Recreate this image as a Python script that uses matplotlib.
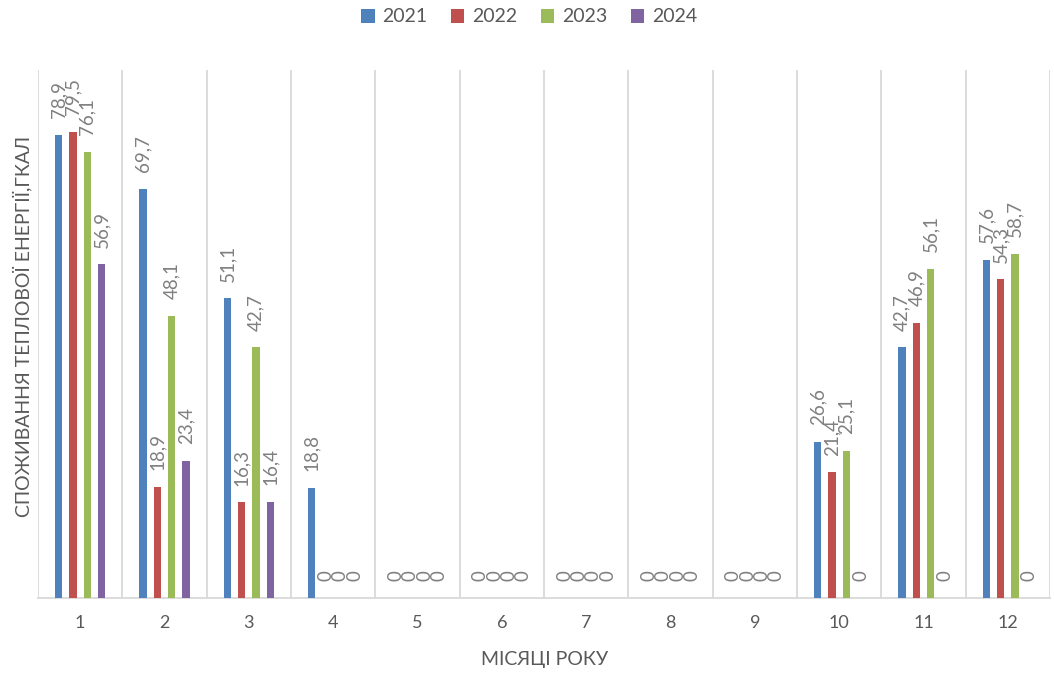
import matplotlib
matplotlib.use("Agg")
import matplotlib.pyplot as plt
import numpy as np

plt.rcParams['font.family'] = ['Lato', 'Open Sans', 'DejaVu Sans']

months = [str(m) for m in range(1, 13)]
years = ['2021', '2022', '2023', '2024']
v2021 = [78.9, 69.7, 51.1, 18.8, 0, 0, 0, 0, 0, 26.6, 42.7, 57.6]
v2022 = [79.5, 18.9, 16.3, 0, 0, 0, 0, 0, 0, 21.4, 46.9, 54.3]
v2023 = [76.1, 48.1, 42.7, 0, 0, 0, 0, 0, 0, 25.1, 56.1, 58.7]
v2024 = [56.9, 23.4, 16.4, 0, 0, 0, 0, 0, 0, 0, 0, 0]
series = [v2021, v2022, v2023, v2024]
colors = ['#4F81BD', '#C0504D', '#9BBB59', '#8064A2']

fig = plt.figure(figsize=(10.54, 6.75), dpi=100)
ax = fig.add_axes([38 / 1054, 1 - 598 / 675, 1012 / 1054, 528 / 675])

x = np.arange(1, 13)
step = 0.17
width = 0.088
for i, (vals, c, yr) in enumerate(zip(series, colors, years)):
    xs = x + (i - 1.5) * step
    ax.bar(xs, vals, width=width, color=c, label=yr, zorder=3)
    for xi, v in zip(xs, vals):
        ax.annotate(f"{v:g}".replace('.', ','), xy=(xi, v), xytext=(0, 12),
                    textcoords='offset points', rotation=90, ha='center',
                    va='bottom', fontsize=13.5, color='#808080', zorder=4)

ax.set_xlim(0.5, 12.5)
ax.set_ylim(0, 90)
ax.set_xticks(x)
ax.set_xticklabels(months, fontsize=13, color='#595959')
ax.set_xticks(np.arange(0.5, 13, 1), minor=True)
ax.tick_params(axis='x', which='both', length=0, pad=12)
ax.set_yticks([])
ax.grid(which='minor', axis='x', color='#D9D9D9', linewidth=1.3, zorder=0)
for s in ['top', 'right', 'left']:
    ax.spines[s].set_visible(False)
ax.spines['bottom'].set_color('#D9D9D9')
ax.spines['bottom'].set_linewidth(1.3)

fig.text(545 / 1054, 1 - 660 / 675, 'МІСЯЦІ РОКУ', ha='center', va='center',
         fontsize=14, color='#595959')
fig.text(22 / 1054, 1 - 326 / 675, 'СПОЖИВАННЯ ТЕПЛОВОЇ ЕНЕРГІЇ,ГКАЛ', ha='center',
         va='center', rotation=90, fontsize=14, color='#595959')

fig.legend(loc='center', bbox_to_anchor=(529 / 1054, 1 - 17 / 675), ncol=4,
           frameon=False, fontsize=14, labelcolor='#595959', handlelength=0.7,
           handleheight=0.7, handletextpad=0.4, columnspacing=1.2)

fig.savefig('out.png', dpi=100)
